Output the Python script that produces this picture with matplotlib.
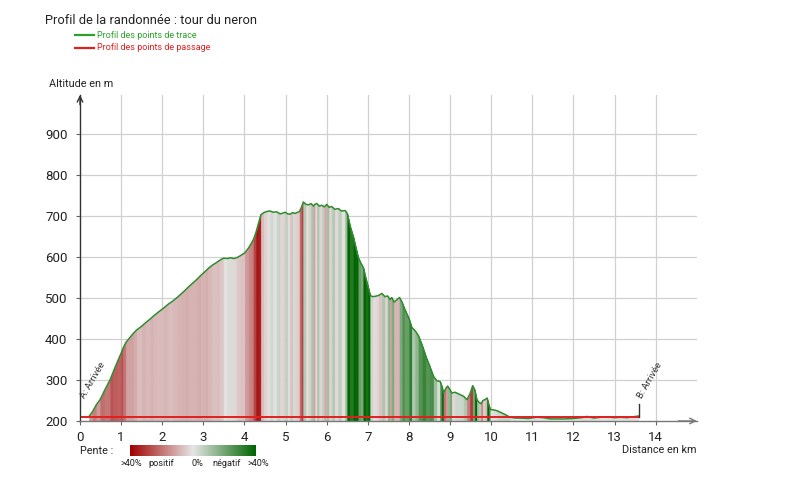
import matplotlib
matplotlib.use("Agg")
import matplotlib.pyplot as plt
import numpy as np
from matplotlib.colors import LinearSegmentedColormap

plt.rcParams['font.family'] = ['Roboto', 'DejaVu Sans']

title = "Profil de la randonnée : tour du neron"
legend_labels = ["Profil des points de trace", "Profil des points de passage"]
x_ticks = list(range(0, 15))
y_ticks = [200, 300, 400, 500, 600, 700, 800, 900]

dist_km = [0.22, 0.30, 0.40, 0.49, 0.60, 0.73, 0.83, 0.93, 1.00, 1.05, 1.12, 1.22, 1.30, 1.38, 1.50,
           1.60, 1.70, 1.80, 1.90, 2.03, 2.15, 2.25, 2.35, 2.43, 2.55, 2.65, 2.75, 2.84, 2.95, 3.05,
           3.12, 3.22, 3.30, 3.40, 3.49, 3.58, 3.66, 3.74, 3.81, 3.90, 4.01, 4.10, 4.16, 4.22, 4.28,
           4.34, 4.40, 4.47, 4.55, 4.62, 4.70, 4.78, 4.87, 4.94, 4.99, 5.05, 5.11, 5.17, 5.23, 5.30,
           5.34, 5.39, 5.43, 5.50, 5.56, 5.62, 5.68, 5.72, 5.76, 5.82, 5.88, 5.94, 6.00, 6.06, 6.12,
           6.20, 6.28, 6.36, 6.45, 6.50, 6.57, 6.65, 6.72, 6.77, 6.83, 6.89, 6.95, 7.00, 7.06, 7.12,
           7.18, 7.26, 7.34, 7.42, 7.48, 7.54, 7.58, 7.64, 7.70, 7.77, 7.83, 7.90, 8.00, 8.07, 8.15,
           8.23, 8.32, 8.42, 8.50, 8.60, 8.68, 8.76, 8.80, 8.84, 8.90, 8.94, 9.00, 9.04, 9.12, 9.25,
           9.33, 9.41, 9.48, 9.55, 9.60, 9.65, 9.70, 9.75, 9.80, 9.85, 9.90, 9.94, 9.98, 10.06, 10.14,
           10.25, 10.35, 10.46, 10.60, 10.70, 10.90, 11.10, 11.27, 11.45, 11.60, 11.80, 12.00, 12.20,
           12.33, 12.50, 12.65, 12.81, 13.00, 13.15, 13.30, 13.45, 13.58]
alt_m = [211, 222, 240, 252, 275, 300, 325, 349, 365, 378, 392, 404, 414, 422, 431,
         440, 448, 457, 465, 475, 485, 492, 500, 507, 518, 528, 537, 545, 556, 565,
         572, 580, 585, 592, 597, 596, 598, 596, 598, 603, 610, 622, 632, 643, 660,
         682, 703, 708, 711, 712, 709, 710, 705, 707, 709, 705, 704, 708, 706, 709,
         711, 722, 734, 728, 727, 730, 724, 729, 730, 724, 726, 722, 728, 721, 723,
         716, 718, 712, 713, 706, 675, 648, 618, 598, 585, 574, 548, 530, 506, 503,
         504, 506, 511, 503, 505, 496, 501, 490, 495, 501, 490, 472, 450, 428, 420,
         408, 385, 355, 335, 308, 298, 296, 285, 268, 280, 285, 276, 268, 270, 264,
         260, 252, 265, 286, 276, 252, 246, 242, 250, 252, 256, 240, 228, 227, 225,
         220, 215, 209, 207, 207, 206, 209, 208, 205, 205, 205, 206, 208,
         211, 207, 209, 210, 208, 209, 208, 210, 212]

passage_km = [0.0, 13.6]
passage_alt = [209, 209]
waypoint_labels = ["A: Arrivée", "B: Arrivée"]

cmap = LinearSegmentedColormap.from_list(
    "pente", [(0.0, "#a00000"), (0.5, "#e6e6e6"), (1.0, "#006400")])

fig = plt.figure(figsize=(8.0, 4.97), dpi=100)
ax = fig.add_axes([0.1, 0.153, 0.771, 0.656])
ax.set_xlim(0, 15.0)
ax.set_ylim(200, 995)

d = np.array(dist_km)
a = np.array(alt_m)
for i in range(len(d) - 1):
    slope = (a[i + 1] - a[i]) / ((d[i + 1] - d[i]) * 1000) * 100
    v = 0.5 - np.clip(slope / 40.0, -1, 1) / 2
    c = cmap(v)
    ax.fill_between(d[i:i + 2], [200, 200], a[i:i + 2], color=c, lw=0.4, zorder=2)

ax.plot(d, a, color="#2e8b2e", lw=1.1, zorder=4)
ax.plot(passage_km, passage_alt, color="#e02020", lw=1.4, zorder=5)

# waypoint marker B
ax.plot([13.6, 13.6], [209, 241], color="#333333", lw=1.0, zorder=5)
ax.text(0.17, 250, waypoint_labels[0], rotation=60, rotation_mode="anchor",
        ha="left", va="bottom", fontsize=6.8, color="#333333", zorder=6)
ax.text(13.72, 250, waypoint_labels[1], rotation=60, rotation_mode="anchor",
        ha="left", va="bottom", fontsize=6.8, color="#333333", zorder=6)

# grid
for xv in range(1, 15):
    ax.axvline(xv, color="#d0d0d0", lw=0.9, zorder=1)
for yv in y_ticks[1:]:
    ax.axhline(yv, color="#d0d0d0", lw=0.9, zorder=1)

ax.set_xticks(x_ticks)
ax.set_yticks(y_ticks)
ax.tick_params(axis="x", length=3, width=0.8, color="#666666", labelsize=9.5, pad=4, labelcolor="#222222")
ax.tick_params(axis="y", length=3, width=0.8, color="#666666", labelsize=9.5, pad=6, labelcolor="#222222")
for s in ["top", "right"]:
    ax.spines[s].set_visible(False)
ax.spines["left"].set_color("#333333")
ax.spines["left"].set_linewidth(1.0)
ax.spines["bottom"].set_color("#777777")
ax.spines["bottom"].set_linewidth(1.0)
ax.spines["left"].set_zorder(6)
ax.spines["bottom"].set_zorder(6)

ax.annotate("", xy=(0, 1.0), xytext=(0, 0.97), xycoords="axes fraction",
            arrowprops=dict(arrowstyle="->", color="#333333", lw=1.0, shrinkA=0, shrinkB=0))
ax.annotate("", xy=(1.0, 0), xytext=(0.97, 0), xycoords="axes fraction",
            arrowprops=dict(arrowstyle="->", color="#777777", lw=1.0, shrinkA=0, shrinkB=0))

# titles and labels
fig.text(45 / 800, 1 - 21 / 497, title, fontsize=9.3, color="#222222", va="center", ha="left")
fig.add_artist(plt.Line2D([75 / 800, 94 / 800], [1 - 35 / 497, 1 - 35 / 497], color="#2ca02c", lw=1.6))
fig.text(97 / 800, 1 - 35 / 497, legend_labels[0], fontsize=6.5, color="#2ca02c", va="center")
fig.add_artist(plt.Line2D([75 / 800, 94 / 800], [1 - 48 / 497, 1 - 48 / 497], color="#e02020", lw=1.6))
fig.text(97 / 800, 1 - 48 / 497, legend_labels[1], fontsize=6.5, color="#e02020", va="center")

fig.text(49 / 800, 1 - 84 / 497, "Altitude en m", fontsize=7.8, color="#222222", va="center")
fig.text(697 / 800, 1 - 450 / 497, "Distance en km", fontsize=7.8, color="#222222", va="center", ha="right")

# slope colour bar
fig.text(80 / 800, 1 - 451 / 497, "Pente :", fontsize=7.8, color="#222222", va="center")
cax = fig.add_axes([130 / 800, 1 - 456 / 497, 126 / 800, 11 / 497])
cax.imshow(np.linspace(0, 1, 256)[None, :], aspect="auto", cmap=cmap)
cax.set_axis_off()
for xp, lab in zip([120, 148, 191, 212, 247], [">40%", "positif", "0%", "négatif", ">40%"]):
    fig.text(xp / 800, 1 - 463 / 497, lab, fontsize=6.6, color="#222222", va="center", ha="left")

fig.savefig("out.png", dpi=100)
